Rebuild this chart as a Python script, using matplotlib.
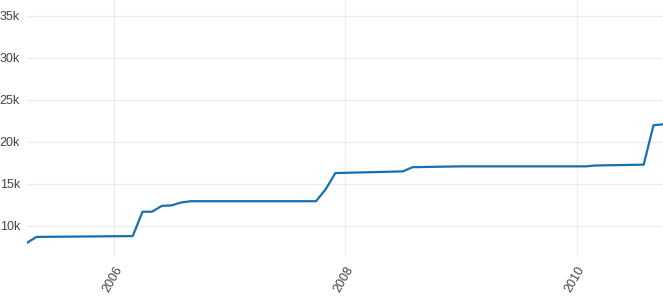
import matplotlib
matplotlib.use("Agg")
import matplotlib.pyplot as plt
import matplotlib.dates as mdates
from matplotlib.ticker import FuncFormatter
import pandas as pd

dates = ["2005-04-01", "2005-05-01", "2006-03-01", "2006-04-01", "2006-05-01",
         "2006-06-01", "2006-07-01", "2006-08-01", "2006-09-01", "2007-10-01",
         "2007-11-01", "2007-12-01", "2008-07-01", "2008-08-01", "2009-01-01",
         "2010-02-01", "2010-03-01", "2010-08-01", "2010-09-01", "2010-10-01"]
values = [8000, 8700, 8800, 11700, 11700,
          12400, 12450, 12800, 12950, 12950,
          14400, 16300, 16500, 17000, 17100,
          17100, 17200, 17300, 22000, 22100]

x = pd.to_datetime(dates)

plt.rcParams['font.family'] = ['Liberation Sans', 'DejaVu Sans']

fig = plt.figure(figsize=(6.63, 3.06), dpi=100)
ax = fig.add_axes([27 / 663, 49 / 306, 636 / 663, 257 / 306])

ax.plot(x, values, color='#1770b0', linewidth=1.6)

ax.set_xlim(x[0], x[-1])
ax.set_ylim(6310, 36900)
ax.set_yticks([10000, 15000, 20000, 25000, 30000, 35000])
ax.yaxis.set_major_formatter(FuncFormatter(lambda v, p: f"{int(v / 1000)}k"))
ax.xaxis.set_major_locator(mdates.YearLocator(2))
ax.xaxis.set_major_formatter(mdates.DateFormatter('%Y'))

for s in ax.spines.values():
    s.set_visible(False)
ax.grid(True, color='#ebebeb', linewidth=0.8)
ax.tick_params(length=0, labelsize=9, colors='#444444', pad=5)
for lab in ax.get_xticklabels():
    lab.set_rotation(60)
    lab.set_ha('right')
    lab.set_rotation_mode('anchor')

fig.savefig('out.png', dpi=100)
